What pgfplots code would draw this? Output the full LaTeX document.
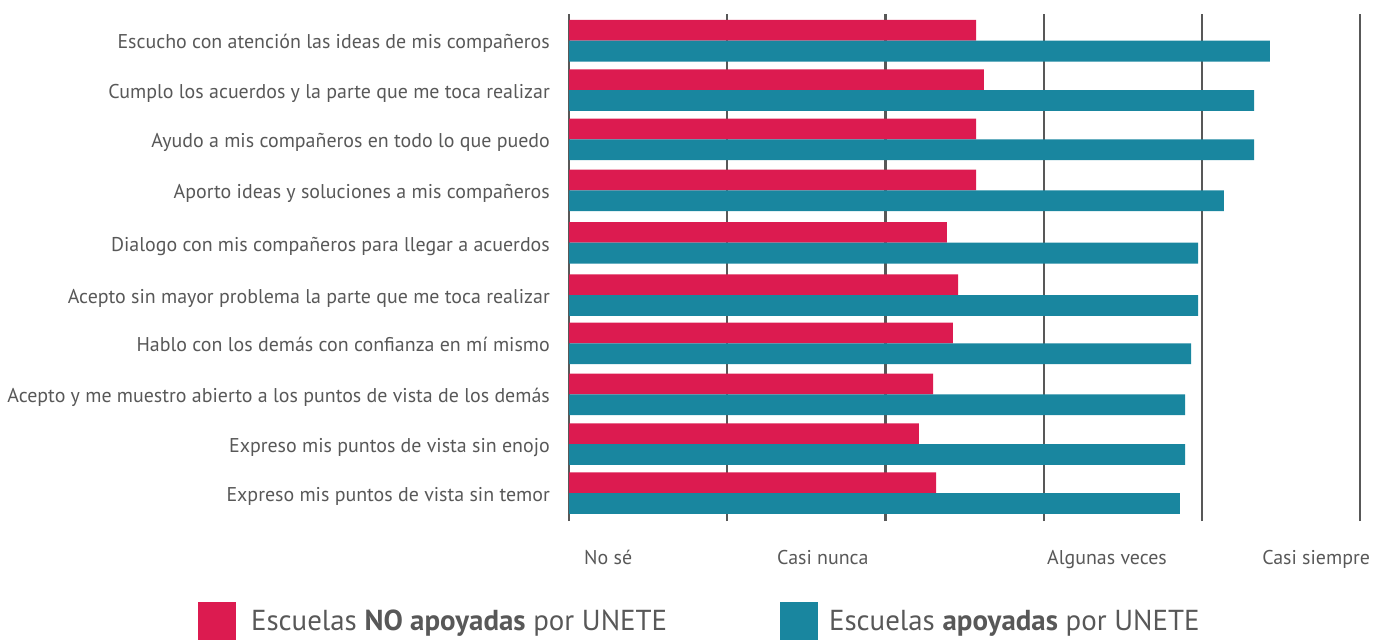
\documentclass[border=0pt]{standalone}
\usepackage{fontspec}
\setmainfont{PT Sans}
\usepackage{pgfplots}
\pgfplotsset{compat=1.18}
\definecolor{redbar}{RGB}{220,27,80}
\definecolor{tealbar}{RGB}{25,134,159}
\definecolor{txt}{RGB}{88,88,88}
\definecolor{gridc}{RGB}{88,88,88}
\begin{document}
\begin{tikzpicture}
\useasboundingbox (0bp,0bp) rectangle (1373bp,-640bp);
\begin{axis}[
  at={(569bp,-521bp)}, anchor=south west,
  scale only axis, width=791bp, height=507bp,
  xmin=0, xmax=5, ymin=0, ymax=507,
  axis line style={draw=none},
  major tick length=0pt,
  xtick={0.095,1.315,3.021,4.381},
  xticklabels={No sé, Casi nunca, Algunas veces, Casi siempre},
  xticklabel style={anchor=base west, inner sep=0pt, yshift=-43bp, font=\fontsize{20}{24}\selectfont, text=txt},
  extra x ticks={0,1,2,3,4,5},
  extra x tick labels={,,,,,},
  extra x tick style={grid=major, major grid style={draw=gridc, line width=2.2bp}},
  ytick={474,424.7,375.4,324.4,272,219.7,171.4,120.4,70.7,21.7},
  yticklabels={Escucho con atención las ideas de mis compañeros,
    Cumplo los acuerdos y la parte que me toca realizar,
    Ayudo a mis compañeros en todo lo que puedo,
    Aporto ideas y soluciones a mis compañeros,
    Dialogo con mis compañeros para llegar a acuerdos,
    Acepto sin mayor problema la parte que me toca realizar,
    Hablo con los demás con confianza en mí mismo,
    Acepto y me muestro abierto a los puntos de vista de los demás\ ,
    Expreso mis puntos de vista sin enojo,
    Expreso mis puntos de vista sin temor},
  yticklabel style={anchor=base east, inner sep=0pt, xshift=-19bp, yshift=-2bp, font=\fontsize{20}{24}\selectfont, text=txt},
  legend style={at={(axis description cs:-0.4690,-0.1598)}, anchor=north west,
    draw=none, fill=none, inner sep=0pt, outer sep=0pt, row sep=0pt,
    font=\fontsize{29}{35}\selectfont, text=txt,
    nodes={inner sep=0pt},
    /tikz/every odd column/.append style={column sep=15bp},
    /tikz/every even column/.append style={column sep=0bp}},
  legend columns=2,
]
\addplot[xbar, bar width=20.7bp, bar shift=10.35bp, fill=redbar, draw=none,
  legend image code/.code={\fill[redbar] (0bp,-19bp) rectangle (38bp,19bp);}]
  coordinates {(2.573,480.3) (2.623,431) (2.573,381.7) (2.573,330.7) (2.389,278.3)
               (2.459,226) (2.427,177.7) (2.301,126.7) (2.212,77) (2.320,28)};
\addlegendentry{\makebox[529bp][l]{Escuelas \textbf{NO apoyadas} por UNETE}}
\addplot[xbar, bar width=20.9bp, bar shift=-10.45bp, fill=tealbar, draw=none,
  legend image code/.code={\fill[tealbar] (0bp,-19bp) rectangle (38bp,19bp);}]
  coordinates {(4.431,480.3) (4.330,431) (4.330,381.7) (4.140,330.7) (3.976,278.3)
               (3.976,226) (3.932,177.7) (3.894,126.7) (3.894,77) (3.862,28)};
\addlegendentry{\hspace*{-4bp}Escuelas \textbf{apoyadas} por UNETE}
\end{axis}
\end{tikzpicture}
\end{document}
